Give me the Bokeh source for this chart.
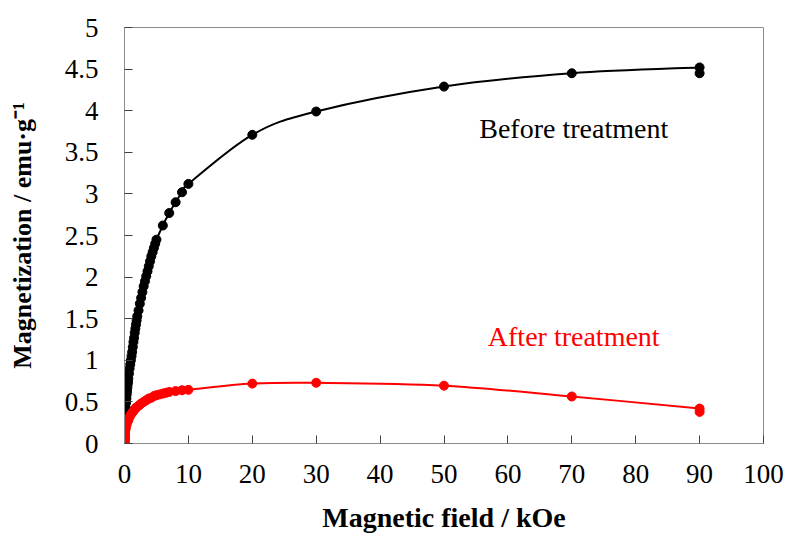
import numpy as np
from bokeh.plotting import figure
from bokeh.models import FixedTicker, Label
from bokeh.embed import file_html
from bokeh.resources import INLINE

# ---- data ----
before_h = [0, 0.01, 0.02, 0.03, 0.04, 0.05, 0.06, 0.08, 0.1, 0.12, 0.14, 0.17, 0.2,
            0.25, 0.3, 0.35, 0.4, 0.45, 0.5, 0.55, 0.6, 0.7, 0.8, 0.9, 1.0, 1.1, 1.2,
            1.3, 1.4, 1.5, 1.6, 1.7, 1.8, 1.9, 2.0, 2.2, 2.4, 2.6, 2.8, 3.0, 3.2, 3.4,
            3.6, 3.8, 4.0, 4.2, 4.4, 4.6, 4.8, 5.0, 6, 7, 8, 9, 10, 20, 30, 50, 70, 90]
before_m = [0, 0.03, 0.06, 0.09, 0.12, 0.15, 0.18, 0.23, 0.28, 0.32, 0.35, 0.39, 0.43,
            0.49, 0.54, 0.59, 0.63, 0.67, 0.71, 0.74, 0.78, 0.84, 0.9, 0.95, 1.0, 1.05, 1.1,
            1.16, 1.22, 1.27, 1.33, 1.38, 1.43, 1.48, 1.53, 1.6, 1.68, 1.75, 1.82, 1.89, 1.95, 2.01,
            2.07, 2.13, 2.19, 2.25, 2.3, 2.35, 2.4, 2.45, 2.62, 2.77, 2.9, 3.02, 3.12, 3.71, 3.99, 4.29, 4.45, 4.52]
before_end_h = [90]
before_end_m = [4.45]

after_h = [0, 0.01, 0.02, 0.04, 0.06, 0.08, 0.1, 0.15, 0.2, 0.3, 0.4, 0.5, 0.6, 0.8,
           1.0, 1.2, 1.4, 1.6, 1.8, 2.0, 2.3, 2.6, 3.0, 3.4, 3.8, 4.2, 4.6, 5.0, 5.5,
           6, 6.5, 7, 8, 9, 10, 20, 30, 50, 70, 90]
after_m = [0, 0.02, 0.04, 0.07, 0.1, 0.12, 0.14, 0.17, 0.19, 0.22, 0.25, 0.27, 0.28, 0.32,
           0.35, 0.37, 0.39, 0.41, 0.43, 0.44, 0.46, 0.48, 0.5, 0.52, 0.54, 0.55, 0.57, 0.58, 0.59,
           0.6, 0.61, 0.62, 0.63, 0.64, 0.645, 0.72, 0.73, 0.695, 0.565, 0.42]
after_end_h = [90]
after_end_m = [0.38]

x_ticks = [0, 10, 20, 30, 40, 50, 60, 70, 80, 90, 100]
x_tick_labels = ["0", "10", "20", "30", "40", "50", "60", "70", "80", "90", "100"]
y_ticks = [0, 0.5, 1, 1.5, 2, 2.5, 3, 3.5, 4, 4.5, 5]
y_tick_labels = ["0", "0.5", "1", "1.5", "2", "2.5", "3", "3.5", "4", "4.5", "5"]

FONT = "Liberation Serif"


def smooth_segments(xs, ys):
    """Catmull-Rom style Bezier control points (like a spreadsheet's smoothed line)."""
    xs = np.asarray(xs, float)
    ys = np.asarray(ys, float)
    n = len(xs)
    i = np.arange(n - 1)
    im1 = np.maximum(i - 1, 0)
    ip2 = np.minimum(i + 2, n - 1)
    cx0 = xs[i] + (xs[i + 1] - xs[im1]) / 6.0
    cy0 = ys[i] + (ys[i + 1] - ys[im1]) / 6.0
    cx1 = xs[i + 1] - (xs[ip2] - xs[i]) / 6.0
    cy1 = ys[i + 1] - (ys[ip2] - ys[i]) / 6.0
    return dict(x0=xs[i], y0=ys[i], x1=xs[i + 1], y1=ys[i + 1],
                cx0=cx0, cy0=cy0, cx1=cx1, cy1=cy1)


p = figure(width=788, height=537, x_range=(0, 100), y_range=(0, 5),
           output_backend="svg", toolbar_location=None,
           min_border_left=124, min_border_right=25,
           min_border_top=27, min_border_bottom=94)

p.background_fill_color = "white"
p.border_fill_color = "white"
p.outline_line_color = "#8c8c8c"
p.outline_line_width = 1
p.xgrid.visible = False
p.ygrid.visible = False

for series_h, series_m, end_h, end_m, col in [
        (before_h, before_m, before_end_h, before_end_m, "black"),
        (after_h, after_m, after_end_h, after_end_m, "#ff0000")]:
    seg = smooth_segments(series_h, series_m)
    p.bezier(x0=seg["x0"], y0=seg["y0"], x1=seg["x1"], y1=seg["y1"],
             cx0=seg["cx0"], cy0=seg["cy0"], cx1=seg["cx1"], cy1=seg["cy1"],
             line_color=col, line_width=2)
    p.scatter(series_h, series_m, size=9, marker="circle",
              fill_color=col, line_color=col)
    p.scatter(end_h, end_m, size=9, marker="circle",
              fill_color=col, line_color=col)

p.add_layout(Label(x=70.3, y=3.79, text="Before treatment", text_font=FONT,
                   text_font_size="28px", text_color="black",
                   text_align="center", text_baseline="middle"))
p.add_layout(Label(x=70.3, y=1.29, text="After treatment", text_font=FONT,
                   text_font_size="28px", text_color="#ff0000",
                   text_align="center", text_baseline="middle"))

# axes
p.xaxis.ticker = FixedTicker(ticks=x_ticks)
p.xaxis.major_label_overrides = dict(zip(x_ticks, x_tick_labels))
p.yaxis.ticker = FixedTicker(ticks=y_ticks)
p.yaxis.major_label_overrides = dict(zip(y_ticks, y_tick_labels))

for ax in (p.xaxis, p.yaxis):
    ax.axis_line_color = "#8c8c8c"
    ax.axis_line_width = 1
    ax.major_tick_line_color = "#404040"
    ax.major_tick_in = 8
    ax.major_tick_out = 0
    ax.minor_tick_line_color = None
    ax.major_label_text_font = FONT
    ax.major_label_text_font_size = "27px"
    ax.major_label_text_color = "black"
    ax.axis_label_text_font = FONT
    ax.axis_label_text_font_style = "bold"
    ax.axis_label_text_color = "black"

p.xaxis.axis_label = "Magnetic field / kOe"
p.xaxis.axis_label_text_font_size = "28px"
p.xaxis.major_label_standoff = 21
p.xaxis.axis_label_standoff = 16

p.yaxis.axis_label = "Magnetization / emu\u00b7g\u207b\u00b9"
p.yaxis.axis_label_text_font_size = "26px"
p.yaxis.major_label_standoff = 26
p.yaxis.axis_label_standoff = 25

open("out.html", "w").write(file_html(p, INLINE))
